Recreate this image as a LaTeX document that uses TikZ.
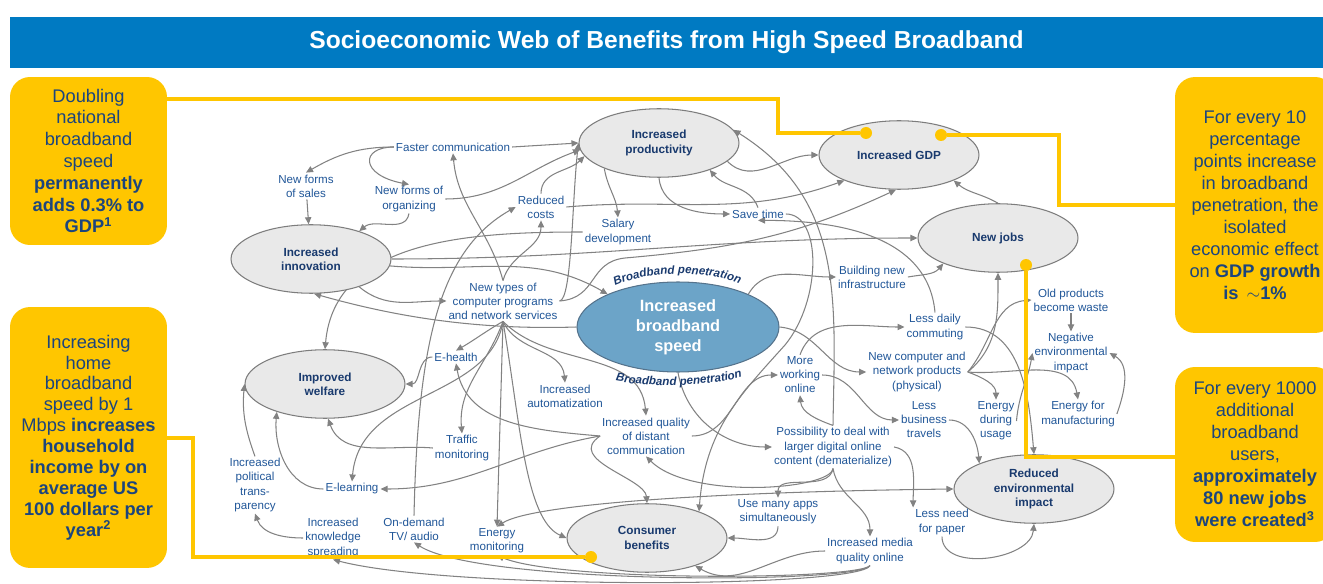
\documentclass[tikz,border=0pt]{standalone}
\usepackage{fontspec}
\setmainfont{Liberation Sans}
\usetikzlibrary{positioning,arrows.meta,shapes.geometric,decorations.text,backgrounds}

\definecolor{bandblue}{RGB}{0,122,194}
\definecolor{callyellow}{RGB}{255,198,0}
\definecolor{callnavy}{RGB}{28,69,125}
\definecolor{labelblue}{RGB}{32,86,152}
\definecolor{hubnavy}{RGB}{25,58,110}
\definecolor{hubfill}{RGB}{233,233,233}
\definecolor{hubline}{RGB}{125,125,125}
\definecolor{speedfill}{RGB}{108,164,200}
\definecolor{speedline}{RGB}{85,115,140}
\definecolor{linkgray}{RGB}{130,130,130}

\begin{document}
\begin{tikzpicture}[x=0.02cm, y=0.02cm, >={Triangle[length=4pt,width=3.6pt]},
  hub/.style={ellipse, draw=hubline, fill=hubfill, line width=0.6pt, minimum width=3.2cm, minimum height=1.37cm, inner sep=0pt, align=center, text=hubnavy, font=\bfseries\fontsize{6.7}{8.2}\selectfont},
  speedhub/.style={hub, draw=speedline, fill=speedfill, minimum width=4.04cm, minimum height=1.8cm, text=white, font=\bfseries\fontsize{9.3}{11.3}\selectfont},
  lbl/.style={align=center, inner sep=1pt, text=labelblue, font=\fontsize{6.6}{8}\selectfont},
  link/.style={->, draw=linkgray, line width=0.6pt},
  callout/.style={rounded corners=0.4cm, fill=callyellow, text=callnavy, align=center, inner sep=0pt, font=\fontsize{10.4}{12.4}\selectfont},
  pointer/.style={draw=callyellow, line width=1.9pt},
  pindot/.style={circle, fill=callyellow, inner sep=0pt, minimum size=0.24cm},
  titlebar/.style={fill=bandblue, text=white, minimum width=26.26cm, minimum height=1.02cm, font=\bfseries\fontsize{14}{16}\selectfont},
  arcnote/.style={decorate, decoration={text along path, text align=center, text color=hubnavy, text={|\bfseries\itshape\fontsize{6.6}{8}\selectfont|Broadband penetration}}}
]
  \useasboundingbox (0,0) rectangle (1323,-584);

  % Title
  \node[titlebar] (title) at (666.5,-42.5) {Socioeconomic Web of Benefits from High Speed Broadband};

  % Main effects
  \node[speedhub] (speed) at (678,-327) {Increased\\broadband\\speed};
  \node[hub] (prod) at (659,-143) {Increased\\productivity};
  \node[hub] (gdp) at (899,-155) {Increased GDP};
  \node[hub] (jobs) at (998,-238) {New jobs};
  \node[hub] (innov) at (311,-259) {Increased\\innovation};
  \node[hub] (welfare) at (325,-384) {Improved\\welfare};
  \node[hub] (consumer) at (647,-538) {Consumer\\benefits};
  \node[hub] (envimp) at (1034,-489) {Reduced\\environmental\\impact};

  % Intermediate effects
  \node[lbl] (fastcom) at (453,-147) {Faster communication};
  \node[lbl] (sales) at (306,-186) {New forms\\of sales};
  \node[lbl] (organizing) at (409,-199) {New forms of\\organizing};
  \node[lbl] (costs) at (541,-207) {Reduced\\costs};
  \node[lbl] (salary) at (618,-232) {Salary\\development};
  \node[lbl] (savetime) at (758,-214) {Save time};
  \node[lbl] (newtypes) at (503,-301) {New types of\\computer programs\\and network services};
  \node[lbl] (buildinfra) at (872,-277) {Building new\\infrastructure};
  \node[lbl] (commuting) at (935,-327) {Less daily\\commuting};
  \node[lbl] (newprod) at (917,-372) {New computer and\\network products\\(physical)};
  \node[lbl] (workonline) at (800,-375) {More\\working\\online};
  \node[lbl] (business) at (924,-420) {Less\\business\\travels};
  \node[lbl] (oldprod) at (1071,-300) {Old products\\become waste};
  \node[lbl] (negenv) at (1071,-353) {Negative\\environmental\\impact};
  \node[lbl] (energymanu) at (1078,-414) {Energy for\\manufacturing};
  \node[lbl] (energyuse) at (996,-421) {Energy\\during\\usage};
  \node[lbl] (ehealth) at (456,-357) {E-health};
  \node[lbl] (automat) at (565,-396) {Increased\\automatization};
  \node[lbl] (quality) at (646,-436) {Increased quality\\of distant\\communication};
  \node[lbl] (dematerial) at (833,-447) {Possibility to deal with\\larger digital online\\content (dematerialize)};
  \node[lbl] (traffic) at (462,-448) {Traffic\\monitoring};
  \node[lbl] (elearning) at (352,-489) {E-learning};
  \node[lbl] (political) at (255,-485) {Increased\\political\\trans-\\parency};
  \node[lbl] (knowledge) at (333,-538) {Increased\\knowledge\\spreading};
  \node[lbl] (ondemand) at (414,-529) {On-demand\\TV/ audio};
  \node[lbl] (energymon) at (497,-541) {Energy\\monitoring};
  \node[lbl] (manyapps) at (778,-512) {Use many apps\\simultaneously};
  \node[lbl] (paper) at (942,-522) {Less need\\for paper};
  \node[lbl] (media) at (870,-551) {Increased media\\quality online};

  % Web of links
  \begin{pgfonlayer}{background}
    \draw[link] (fastcom.west) to[out=180,in=30] (sales.north);
    \draw[link] (fastcom.west) .. controls (360,-147) and (360,-175) .. (organizing.north);
    \draw[link] (fastcom.east) -- (prod.west);
    \draw[link] (sales) -- (innov);
    \draw[link] (organizing.south) to[out=-100,in=40] (innov.30);
    \draw[link] (organizing.east) to[out=0,in=200] (prod.185);
    \draw[link] (costs.north) to[out=90,in=225] (prod.190);
    \draw[link] (costs.east) to[out=5,in=200] (gdp.205);
    \draw[link] (prod.205) to[out=-80,in=95] (salary.north);
    \draw[link] (prod.south) to[out=-85,in=180] (savetime.west);
    \draw[link] (prod.-15) to[out=-45,in=180] (gdp.west);
    \draw[link] (savetime.north) to[out=110,in=-50] (prod.-28);
    \draw[link] (savetime.east) .. controls (822,-214) and (822,-300) .. (785,-345)
      .. controls (740,-395) and (705,-430) .. (consumer.27);
    \draw[link] (commuting.north) to[out=95,in=0] (savetime.south);
    \draw[link] (dematerial.north) .. controls (835,-300) and (845,-200) .. (prod.10);
    \draw[link] (salary.west) to[out=180,in=85] (welfare.north);
    \draw[link] (innov.east) to[out=0,in=180] (jobs.west);
    \draw[link] (innov.-5) to[out=-5,in=150] (speed.155);
    \draw[link] (innov.-30) to[out=-40,in=180] (newtypes.west);
    \draw[link] (speed.west) .. controls (480,-330) and (400,-318) .. (innov.-85);
    \draw[link] (newtypes.north) to[out=105,in=-85] (fastcom.south);
    \draw[link] (newtypes.north) to[out=75,in=-90] (costs.south);
    \draw[link] (newtypes.east) .. controls (572,-300) and (572,-200) .. (prod.west);
    \draw[link] (newtypes.east) .. controls (598,-298) and (588,-262) .. (625,-258)
      to[out=5,in=-155] (gdp.-95);
    \draw[link] (newtypes.south) to[out=-150,in=30] (ehealth.north);
    \draw[link] (newtypes.south) to[out=-110,in=95] (traffic.north);
    \draw[link] (newtypes.south) to[out=-65,in=95] (automat.north);
    \draw[link] (newtypes.south) to[out=-45,in=95] (quality.north);
    \draw[link] (newtypes.south) -- (energymon.north);
    \draw[link] (newtypes.south) .. controls (520,-420) and (525,-520) .. (consumer.west);
    \draw[link] (newtypes.south) .. controls (490,-400) and (360,-390) .. (elearning.north);
    \draw[link] (ehealth.west) to[out=180,in=0] (welfare.east);
    \draw[link] (traffic.west) to[out=175,in=-70] (welfare.-85);
    \draw[link] (elearning.west) to[out=180,in=-95] (welfare.-150);
    \draw[link] (political.north) to[out=110,in=-95] (welfare.west);
    \draw[link] (knowledge.west) to[out=180,in=-70] (political.south);
    \draw[link] (quality.west) to[out=175,in=-80] (ehealth.south);
    \draw[link] (quality.west) to[out=190,in=0] (elearning.east);
    \draw[link] (quality.west) .. controls (565,-460) and (645,-478) .. (consumer.north);
    \draw[link] (quality.east) to[out=0,in=180] (workonline.west);
    \draw[link] (ondemand.north) .. controls (418,-340) and (440,-250) .. (costs.west);
    \draw[link] (speed.25) to[out=60,in=180] (buildinfra.west);
    \draw[link] (buildinfra.east) to[out=10,in=-130] (jobs.-155);
    \draw[link] (speed.east) to[out=-5,in=180] (newprod.west);
    \draw[link] (speed.south) to[out=-80,in=180] (dematerial.west);
    \draw[link] (workonline.north) to[out=70,in=180] (commuting.west);
    \draw[link] (workonline.east) to[out=0,in=180] (business.west);
    \draw[link] (dematerial.north) to[out=160,in=-85] (workonline.south);
    \draw[link] (dematerial.south) to[out=-100,in=90] (manyapps.north);
    \draw[link] (dematerial.south) to[out=-80,in=90] (media.north);
    \draw[link] (dematerial.south) .. controls (830,-490) and (690,-500) .. (quality.south);
    \draw[link] (dematerial.east) to[out=-10,in=90] (paper.north west);
    \draw[link] (manyapps.south) to[out=-90,in=0] (consumer.east);
    \draw[link] (media.west) to[out=180,in=-30] (consumer.-30);
    \draw[link] (media.south) .. controls (860,-588) and (450,-590) .. (knowledge.south);
    \draw[link] (media.south) .. controls (860,-584) and (480,-585) .. (ondemand.south);
    \draw[link] (media.south) .. controls (858,-580) and (560,-582) .. (energymon.south);
    \draw[link,<->] (energymon.north) .. controls (530,-505) and (700,-492) .. (envimp.west);
    \draw[link] (paper.south) to[out=-90,in=-95] (envimp.south);
    \draw[link] (business.east) to[out=0,in=95] (envimp.155);
    \draw[link] (newprod.east) to[out=40,in=-90] (jobs.south);
    \draw[link] (newprod.east) to[out=50,in=185] (oldprod.west);
    \draw[link] (newprod.east) to[out=-20,in=90] (energyuse.north);
    \draw[link] (newprod.east) to[out=-5,in=100] (energymanu.north);
    \draw[link] (oldprod) -- (negenv);
    \draw[link] (energymanu.east) to[out=70,in=-30] (negenv.east);
    \draw[link] (energyuse.east) to[out=85,in=-100] (negenv.west);
    \draw[link] (commuting.east) to[out=0,in=95] (envimp.north);
    \draw[link] (jobs.north) to[out=150,in=-40] (gdp.-25);
  \end{pgfonlayer}

  % Curved captions round the hub
  \path[arcnote] (615,-286) .. controls (650,-270) and (705,-270) .. (740,-284);
  \path[arcnote] (616,-381) .. controls (650,-388) and (710,-386) .. (742,-377);

  % Key figures
  \node[callout, minimum width=3.14cm, minimum height=3.36cm] (calloutgdp) at (88.5,-161)
    {Doubling\\national\\broadband\\speed\\\textbf{permanently}\\\textbf{adds 0.3\% to}\\\textbf{GDP\textsuperscript{1}}};
  \node[callout, minimum width=3.14cm, minimum height=5.22cm, font=\fontsize{10.4}{11.9}\selectfont] (callouthome) at (88.5,-437.5)
    {Increasing\\home\\broadband\\speed by 1\\Mbps \textbf{increases}\\\textbf{household}\\\textbf{income by on}\\\textbf{average US}\\\textbf{100 dollars per}\\\textbf{year\textsuperscript{2}}};
  \node[callout, minimum width=3.2cm, minimum height=5.12cm, font=\fontsize{10.4}{12.5}\selectfont] (calloutpen) at (1255,-205)
    {For every 10\\percentage\\points increase\\in broadband\\penetration, the\\isolated\\economic effect\\on \textbf{GDP growth}\\\textbf{is \,$\sim$1\%}};
  \node[callout, minimum width=3.2cm, minimum height=3.5cm, font=\fontsize{10.4}{12.5}\selectfont] (calloutjobs) at (1255,-454.5)
    {For every 1000\\additional\\broadband\\users,\\\textbf{approximately}\\\textbf{80 new jobs}\\\textbf{were created\textsuperscript{3}}};

  \node[pindot] (dotgdpa) at (866,-133) {};
  \node[pindot] (dotgdpb) at (941,-135) {};
  \node[pindot] (dotcons) at (591,-557) {};
  \node[pindot] (dotjobs) at (1026,-265) {};

  \draw[pointer] (calloutgdp.east |- 0,-99) -- (778,-99) |- (dotgdpa);
  \draw[pointer] (calloutpen.west |- 0,-205) -- (1059,-205) |- (dotgdpb);
  \draw[pointer] (callouthome.east |- 0,-438) -- (193,-438) |- (dotcons);
  \draw[pointer] (calloutjobs.west |- 0,-457) -| (dotjobs);
\end{tikzpicture}
\end{document}
